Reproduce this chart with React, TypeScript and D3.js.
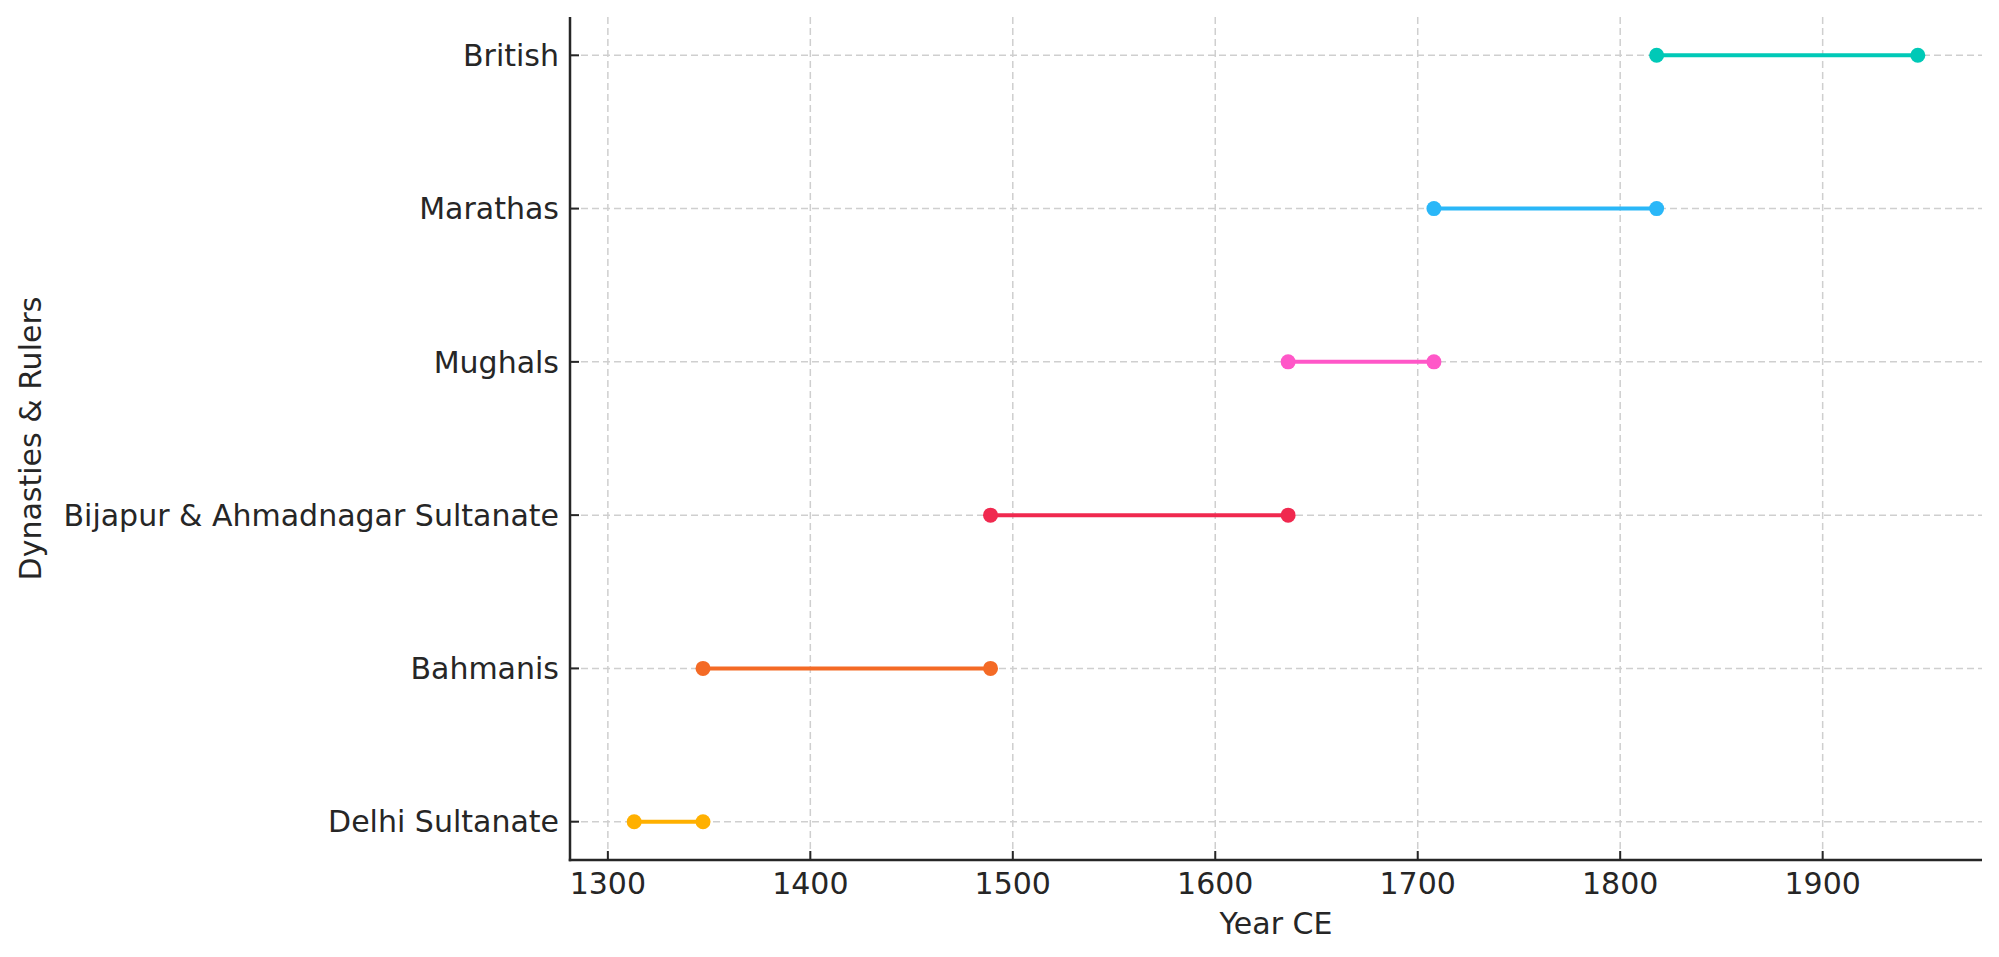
import React from "react";
import * as d3 from "d3";

const categories = [
  "Delhi Sultanate",
  "Bahmanis",
  "Bijapur & Ahmadnagar Sultanate",
  "Mughals",
  "Marathas",
  "British",
];
const startYears = [1313, 1347, 1489, 1636, 1708, 1818];
const endYears = [1347, 1489, 1636, 1708, 1818, 1947];
const colors = ["#FFB000", "#F46A25", "#F0294F", "#FF57C8", "#2AB7F8", "#00C9B7"];
const xTicks = [1300, 1400, 1500, 1600, 1700, 1800, 1900];
const xLabel = "Year CE";
const yLabel = "Dynasties & Rulers";

const W = 1999;
const H = 957;
const L = 570;
const R = 1982;
const T = 17;
const B = 860;
const FONT = "DejaVu Sans, sans-serif";
const FS = 30;
const TEXT = "#262626";
const GRID = "#cfcfcf";

export default function App() {
  const lo = d3.min(startYears)!;
  const hi = d3.max(endYears)!;
  const pad = (hi - lo) * 0.05;
  const x = d3.scaleLinear().domain([lo - pad, hi + pad]).range([L, R]);
  const n = categories.length;
  const y = d3.scaleLinear().domain([-0.25, n - 1 + 0.25]).range([B, T]);

  return (
    <svg
      width={W}
      height={H}
      style={{ position: "absolute", left: 0, top: 0, background: "#fff" }}
      fontFamily={FONT}
    >
      <rect x={0} y={0} width={W} height={H} fill="#fff" />
      {/* grid */}
      <g stroke={GRID} strokeWidth={1.5} strokeDasharray="7,4" fill="none">
        {xTicks.map((t) => (
          <line key={"gx" + t} x1={x(t)} x2={x(t)} y1={T} y2={B} />
        ))}
        {categories.map((c, i) => (
          <line key={"gy" + c} x1={L} x2={R} y1={y(i)} y2={y(i)} />
        ))}
      </g>
      {/* ranges */}
      {categories.map((c, i) => (
        <g key={"r" + c}>
          <line
            x1={x(startYears[i])}
            x2={x(endYears[i])}
            y1={y(i)}
            y2={y(i)}
            stroke={colors[i]}
            strokeWidth={4}
          />
          <circle cx={x(startYears[i])} cy={y(i)} r={7.5} fill={colors[i]} />
          <circle cx={x(endYears[i])} cy={y(i)} r={7.5} fill={colors[i]} />
        </g>
      ))}
      {/* axes */}
      <g stroke={TEXT} strokeWidth={2.5}>
        <line x1={L} x2={L} y1={T} y2={B + 1.25} />
        <line x1={L - 1.25} x2={R} y1={B} y2={B} />
        {xTicks.map((t) => (
          <line key={"tx" + t} x1={x(t)} x2={x(t)} y1={B} y2={B - 9} strokeWidth={2} />
        ))}
        {categories.map((c, i) => (
          <line key={"ty" + c} x1={L} x2={L + 9} y1={y(i)} y2={y(i)} strokeWidth={2} />
        ))}
      </g>
      <g fill={TEXT} fontSize={FS}>
        {xTicks.map((t) => (
          <text key={"lx" + t} x={x(t)} y={B + 34} textAnchor="middle">
            {d3.format("d")(t)}
          </text>
        ))}
        {categories.map((c, i) => (
          <text key={"ly" + c} x={L - 11} y={y(i)} dy="0.36em" textAnchor="end">
            {c}
          </text>
        ))}
        <text x={(L + R) / 2} y={934} textAnchor="middle">
          {xLabel}
        </text>
        <text
          transform={`translate(${41},${(T + B) / 2}) rotate(-90)`}
          textAnchor="middle"
        >
          {yLabel}
        </text>
      </g>
    </svg>
  );
}
